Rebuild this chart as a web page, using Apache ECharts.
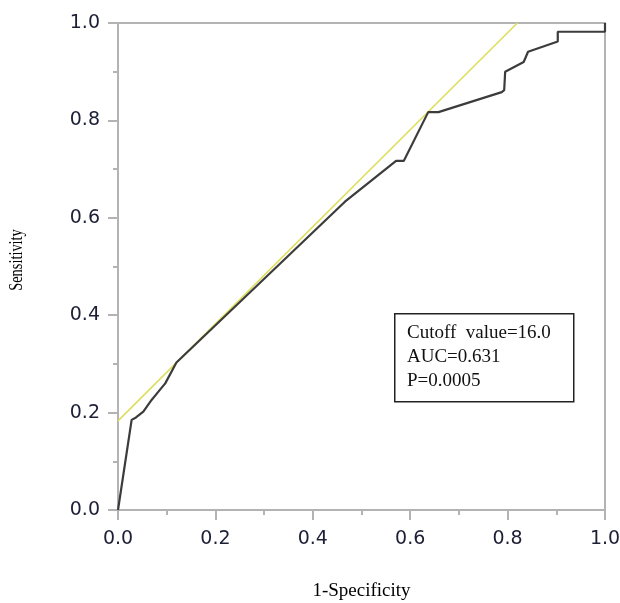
<!DOCTYPE html>
<html>
<head>
<meta charset="utf-8">
<script src="https://cdn.jsdelivr.net/npm/echarts@6/dist/echarts.min.js"></script>
<style>html,body{margin:0;padding:0;background:#fff;}#chart{width:620px;height:603px;}</style>
</head>
<body>
<div id="chart"></div>
<script>
// ROC curve points (1-Specificity, Sensitivity)
var rocX = [0, 0.028, 0.037, 0.052, 0.069, 0.083, 0.097, 0.120, 0.466, 0.571, 0.587, 0.637, 0.658, 0.788, 0.793, 0.795, 0.833, 0.842, 0.903, 0.903, 1.0, 1.0];
var rocY = [0, 0.185, 0.190, 0.202, 0.226, 0.243, 0.260, 0.303, 0.633, 0.717, 0.717, 0.817, 0.817, 0.858, 0.862, 0.900, 0.920, 0.941, 0.962, 0.982, 0.982, 1.0];
// Tangent / reference line endpoints
var refX = [0, 0.82];
var refY = [0.183, 1.0];
var tickValues = [0, 0.2, 0.4, 0.6, 0.8, 1.0];
var xName = '1-Specificity';
var yName = 'Sensitivity';
var statLines = ['Cutoff  value=16.0', 'AUC=0.631', 'P=0.0005'];

var rocData = rocX.map(function (x, i) { return [x, rocY[i]]; });
var refData = refX.map(function (x, i) { return [x, refY[i]]; });

var axisColor = '#b3b3b3';
function makeAxis(name, gap, labelMargin) {
  return {
    type: 'value', min: 0, max: 1, interval: 0.2,
    name: name, nameLocation: 'middle', nameGap: gap,
    nameTextStyle: { fontFamily: 'Liberation Serif', fontSize: 19, color: '#000' },
    axisLine: { show: true, lineStyle: { color: axisColor, width: 2 } },
    axisTick: { show: true, length: 10, lineStyle: { color: axisColor, width: 2 } },
    minorTick: { show: true, splitNumber: 2, length: 5, lineStyle: { color: axisColor, width: 2 } },
    splitLine: { show: false },
    axisLabel: {
      margin: labelMargin, fontFamily: 'DejaVu Sans', fontSize: 19, color: '#1c1f35',
      formatter: function (v) { return v.toFixed(1); }
    }
  };
}

var chart = echarts.init(document.getElementById('chart'), null, { renderer: 'canvas' });
chart.setOption({
  animation: false,
  backgroundColor: '#fff',
  grid: { left: 118, right: 15, top: 23, bottom: 93, show: true, borderColor: axisColor, borderWidth: 2,
          containLabel: false, outerBoundsMode: 'none' },
  xAxis: makeAxis(xName, 72, 20),
  yAxis: Object.assign(makeAxis('', 100, 18), { name: '' }),
  series: [
    {
      type: 'line', data: refData, showSymbol: false, z: 2,
      lineStyle: { color: '#dede5e', width: 1.6 }
    },
    {
      type: 'line', data: rocData, showSymbol: false, z: 3,
      lineStyle: { color: '#3c3c3c', width: 2.2 }
    }
  ],
  graphic: [
    {
      type: 'text', x: 17, y: 260, rotation: Math.PI / 2, scaleX: 0.8, z: 11,
      style: {
        text: yName, fontFamily: 'Liberation Serif', fontSize: 18, fill: '#000',
        align: 'center', verticalAlign: 'middle'
      }
    },
    {
      type: 'rect', left: 394, top: 313,
      shape: { width: 179, height: 88 },
      style: { fill: '#fff', stroke: '#222', lineWidth: 1.5 }, z: 10
    },
    {
      type: 'text', left: 407, top: 321, z: 11,
      style: {
        text: statLines.join('\n'), fontFamily: 'Liberation Serif', fontSize: 19,
        lineHeight: 24, fill: '#111'
      }
    }
  ]
});
</script>
</body>
</html>
